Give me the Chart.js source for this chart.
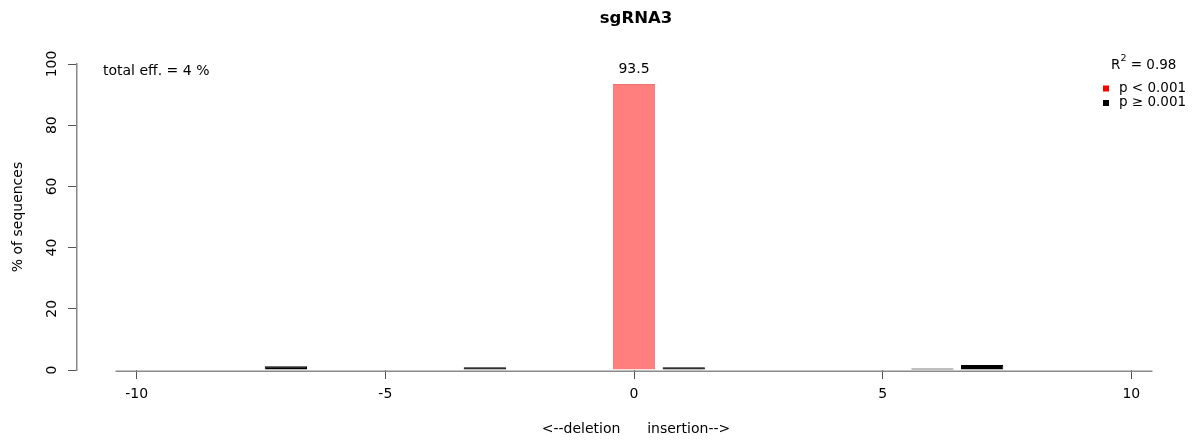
<!DOCTYPE html>
<html>
<head>
<meta charset="utf-8">
<title>sgRNA3</title>
<script src="https://cdn.jsdelivr.net/npm/chart.js@4.4.1/dist/chart.umd.min.js"></script>
<style>
    html, body { margin: 0; padding: 0; background: #ffffff; }
    #contenitore { width: 1195px; height: 441px; }
</style>
</head>
<body>
<div id="contenitore"><canvas id="barChart"></canvas></div>
<script>
// dati
let spostamenti = [-10, -9, -8, -7, -6, -5, -4, -3, -2, -1, 0, 1, 2, 3, 4, 5, 6, 7, 8, 9, 10];
let percentuali = [0, 0, 0, 1.2, 0, 0, 0, 0.9, 0, 0, 93.5, 0.9, 0, 0, 0, 0, 0.5, 1.6, 0, 0, 0];
let significativi = [false, false, false, false, false, false, false, false, false, false, true,
                     false, false, false, false, false, false, false, false, false, false];
let tickX = [-10, -5, 0, 5, 10];
let tickY = [0, 20, 40, 60, 80, 100];
let titolo = "sgRNA3";
let efficienzaTotale = 4;
let r2 = 0.98;
let vociLegenda = ["p < 0.001", "p \u2265 0.001"];
let coloriLegenda = ["#FF0000", "#000000"];

let font = '"DejaVu Sans", sans-serif';

// linea grigia di base + testi
const annotazioni = {
    id: "annotazioni",
    beforeDatasetsDraw(chart) {
        let ctx = chart.ctx;
        let meta = chart.getDatasetMeta(0);
        let primo = meta.data[0].getProps(["x", "width"], true);
        let ultimo = meta.data[meta.data.length - 1].getProps(["x", "width"], true);
        let y0 = chart.scales.y.getPixelForValue(0);
        ctx.save();
        ctx.strokeStyle = "#8a8a8a";
        ctx.lineWidth = 1.5;
        ctx.beginPath();
        ctx.moveTo(primo.x - primo.width / 2, y0 + 1.25);
        ctx.lineTo(ultimo.x + ultimo.width / 2, y0 + 1.25);
        ctx.stroke();
        ctx.restore();
    },
    afterDraw(chart) {
        let ctx = chart.ctx;
        let area = chart.chartArea;
        let yTop = chart.scales.y.getPixelForValue(100);
        ctx.save();
        ctx.fillStyle = "#000000";
        ctx.font = "14px " + font;
        ctx.textBaseline = "middle";

        // efficienza totale
        ctx.textAlign = "left";
        ctx.fillText("total eff. = " + efficienzaTotale + " %", area.left + 26, yTop + 7);

        // valori sopra le barre significative
        let meta = chart.getDatasetMeta(0);
        ctx.textAlign = "center";
        meta.data.forEach(function(barra, i) {
            if (significativi[i]) {
                ctx.fillText(String(percentuali[i]), barra.x, barra.y - 15);
            }
        });

        // R^2
        ctx.font = "13.5px " + font;
        let x = area.right - 84;
        ctx.textAlign = "left";
        ctx.fillText("R", x, yTop + 1);
        x += ctx.measureText("R").width;
        ctx.font = "9.5px " + font;
        ctx.fillText("2", x, yTop - 5);
        x += ctx.measureText("2").width;
        ctx.font = "13.5px " + font;
        ctx.fillText(" = " + r2, x, yTop + 1);

        // legenda
        for (let i = 0; i < vociLegenda.length; i++) {
            let yy = yTop + 24 + i * 14.5;
            ctx.fillStyle = coloriLegenda[i];
            ctx.fillRect(area.right - 92, yy - 2.5, 6, 6);
            ctx.fillStyle = "#000000";
            ctx.fillText(vociLegenda[i], area.right - 76, yy);
        }
        ctx.restore();
    }
};

function creaGrafico() {
    const data = {
        datasets: [{
            data: spostamenti.map(function(s, i) { return { x: s, y: percentuali[i] }; }),
            backgroundColor: significativi.map(function(s) { return s ? "#FF7F7F" : "#000000"; }),
            borderColor: significativi.map(function(s) { return s ? "#F07070" : "#000000"; }),
            borderWidth: 1,
            barPercentage: 0.85,
            categoryPercentage: 1.0
        }]
    };

    const options = {
        responsive: true,
        maintainAspectRatio: false,
        animation: false,
        layout: { padding: 0 },
        plugins: {
            legend: { display: false },
            tooltip: { enabled: false },
            title: {
                display: true,
                text: titolo,
                fullSize: false,
                color: "#000000",
                font: { family: font, size: 16.5, weight: "bold" },
                padding: { top: 9, bottom: 35.2 }
            }
        },
        scales: {
            x: {
                type: "linear",
                offset: false,
                min: -11.2,
                max: 11.28,
                afterBuildTicks: function(scale) {
                    scale.ticks = tickX.map(function(v) { return { value: v }; });
                },
                afterFit: function(scale) { scale.height = 71; },
                border: { display: false },
                grid: { offset: false, drawOnChartArea: false, drawTicks: true, tickLength: 9, color: "#555555" },
                ticks: {
                    color: "#000000",
                    padding: 7,
                    maxRotation: 0,
                    font: { family: font, size: 14 }
                },
                title: {
                    display: true,
                    text: "<--deletion      insertion-->",
                    color: "#000000",
                    font: { family: font, size: 14 },
                    padding: { top: 0, bottom: 3 }
                }
            },
            y: {
                min: 0,
                max: 100,
                afterBuildTicks: function(scale) {
                    scale.ticks = tickY.map(function(v) { return { value: v }; });
                },
                afterFit: function(scale) { scale.width = 77; },
                border: { display: true, color: "#888888", width: 1.5 },
                grid: { drawOnChartArea: false, drawTicks: true, tickLength: 9, color: "#555555" },
                ticks: {
                    color: "#000000",
                    padding: 2,
                    minRotation: 90,
                    maxRotation: 90,
                    crossAlign: "center",
                    font: { family: font, size: 14 }
                },
                title: {
                    display: true,
                    text: "% of sequences",
                    color: "#000000",
                    font: { family: font, size: 14 },
                    padding: { top: 10, bottom: 0 }
                }
            }
        }
    };

    const ctx = document.getElementById("barChart");
    const myBarChart = new Chart(ctx, {
        type: "bar",
        data: data,
        options: options,
        plugins: [annotazioni]
    });
}

document.addEventListener("DOMContentLoaded", function() {
    creaGrafico();
});
</script>
</body>
</html>
